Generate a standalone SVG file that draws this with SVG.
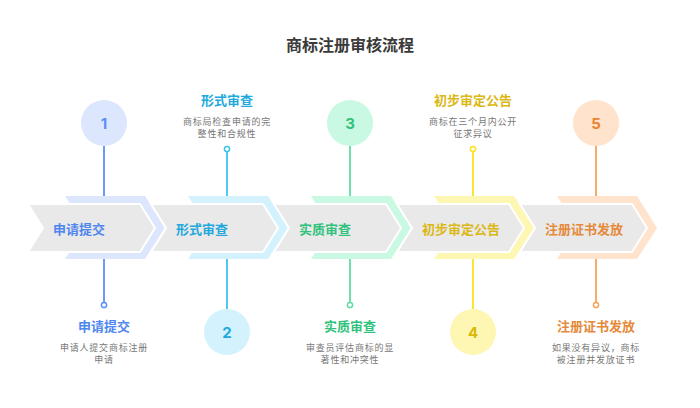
<svg xmlns="http://www.w3.org/2000/svg" width="700" height="408" viewBox="0 0 700 408">
<style>
text{font-family:"Noto Sans CJK SC","Noto Sans",sans-serif}
.title{font-size:16px;font-weight:bold;fill:#3a3a3a;text-anchor:middle}
.gray{fill:#e9e9e9;stroke:#ffffff;stroke-width:2;stroke-linejoin:miter}
.ct{font-size:13px;font-weight:bold;dominant-baseline:central}
.st{font-size:13px;font-weight:bold;text-anchor:middle;dominant-baseline:central}
.desc{font-size:9px;fill:#777777;text-anchor:middle;dominant-baseline:central;letter-spacing:0.8px}
.num{font-family:Inter,Lato,sans-serif;font-size:15px;font-weight:bold;text-anchor:middle;dominant-baseline:central}
.ln{stroke-width:1.8;fill:none}
.dot{fill:#ffffff;stroke-width:1.5}
</style>
<rect width="700" height="408" fill="#ffffff"/>
<text class="title" x="350" y="51">商标注册审核流程</text>

<g id="bands">
<polygon points="65,196 145,196 165,228 145,259 65,259 85,228" fill="#dce7fd"/>
<polygon class="gray" points="28,204 140,204 155,228 140,252 28,252 43,228"/>
<polygon points="188,196 268,196 288,228 268,259 188,259 208,228" fill="#d3f2fd"/>
<polygon class="gray" points="151,204 263,204 278,228 263,252 151,252 166,228"/>
<polygon points="311,196 391,196 411,228 391,259 311,259 331,228" fill="#c9f9e2"/>
<polygon class="gray" points="274,204 386,204 401,228 386,252 274,252 289,228"/>
<polygon points="434,196 514,196 534,228 514,259 434,259 454,228" fill="#fef6b3"/>
<polygon class="gray" points="397,204 509,204 524,228 509,252 397,252 412,228"/>
<polygon points="557,196 637,196 657,228 637,259 557,259 577,228" fill="#ffe3cc"/>
<polygon class="gray" points="520,204 632,204 647,228 632,252 520,252 535,228"/>
</g>

<g id="connectors">
<line class="ln" x1="104" y1="146" x2="104" y2="196" stroke="#5b8ff9"/>
<line class="ln" x1="104" y1="259" x2="104" y2="302" stroke="#5b8ff9"/>
<line class="ln" x1="227" y1="152" x2="227" y2="196" stroke="#3cc3f2"/>
<line class="ln" x1="227" y1="259" x2="227" y2="309" stroke="#3cc3f2"/>
<line class="ln" x1="350" y1="146" x2="350" y2="196" stroke="#62dca4"/>
<line class="ln" x1="350" y1="259" x2="350" y2="302" stroke="#62dca4"/>
<line class="ln" x1="473" y1="152" x2="473" y2="196" stroke="#fae31c"/>
<line class="ln" x1="473" y1="259" x2="473" y2="309" stroke="#fae31c"/>
<line class="ln" x1="596" y1="146" x2="596" y2="196" stroke="#f5a25c"/>
<line class="ln" x1="596" y1="259" x2="596" y2="302" stroke="#f5a25c"/>
</g>

<g id="step1">
<text class="ct" x="53" y="228" fill="#4f86ef">申请提交</text>
<circle cx="104" cy="123" r="23" fill="#dce7fd"/>
<text class="num" x="104" y="123" fill="#5b8ff9">1</text>
<circle class="dot" cx="104" cy="305" r="2.6" stroke="#5b8ff9"/>
<text class="st" x="104" y="325" fill="#4f86ef">申请提交</text>
<text class="desc" x="104" y="347">申请人提交商标注册</text>
<text class="desc" x="104" y="359">申请</text>
</g>

<g id="step2">
<text class="ct" x="176" y="228" fill="#22a8dc">形式审查</text>
<text class="st" x="227" y="99" fill="#22a8dc">形式审查</text>
<text class="desc" x="227" y="121">商标局检查申请的完</text>
<text class="desc" x="227" y="133">整性和合规性</text>
<circle class="dot" cx="227" cy="149" r="2.6" stroke="#3cc3f2"/>
<circle cx="227" cy="332" r="23" fill="#d3f2fd"/>
<text class="num" x="227" y="332" fill="#22a8dc">2</text>
</g>

<g id="step3">
<text class="ct" x="299" y="228" fill="#2fc27c">实质审查</text>
<circle cx="350" cy="123" r="23" fill="#c9f9e2"/>
<text class="num" x="350" y="123" fill="#2fc27c">3</text>
<circle class="dot" cx="350" cy="305" r="2.6" stroke="#62dca4"/>
<text class="st" x="350" y="325" fill="#2fc27c">实质审查</text>
<text class="desc" x="350" y="347">审查员评估商标的显</text>
<text class="desc" x="350" y="359">著性和冲突性</text>
</g>

<g id="step4">
<text class="ct" x="422" y="228" fill="#dbb815">初步审定公告</text>
<text class="st" x="473" y="99" fill="#dbb815">初步审定公告</text>
<text class="desc" x="473" y="121">商标在三个月内公开</text>
<text class="desc" x="473" y="133">征求异议</text>
<circle class="dot" cx="473" cy="149" r="2.6" stroke="#fae31c"/>
<circle cx="473" cy="332" r="23" fill="#fef6b3"/>
<text class="num" x="473" y="332" fill="#d9b800">4</text>
</g>

<g id="step5">
<text class="ct" x="545" y="228" fill="#e5893a">注册证书发放</text>
<circle cx="596" cy="123" r="23" fill="#ffe3cc"/>
<text class="num" x="596" y="123" fill="#e8842e">5</text>
<circle class="dot" cx="596" cy="305" r="2.6" stroke="#f5a25c"/>
<text class="st" x="596" y="325" fill="#e5893a">注册证书发放</text>
<text class="desc" x="596" y="347">如果没有异议，商标</text>
<text class="desc" x="596" y="359">被注册并发放证书</text>
</g>
</svg>
